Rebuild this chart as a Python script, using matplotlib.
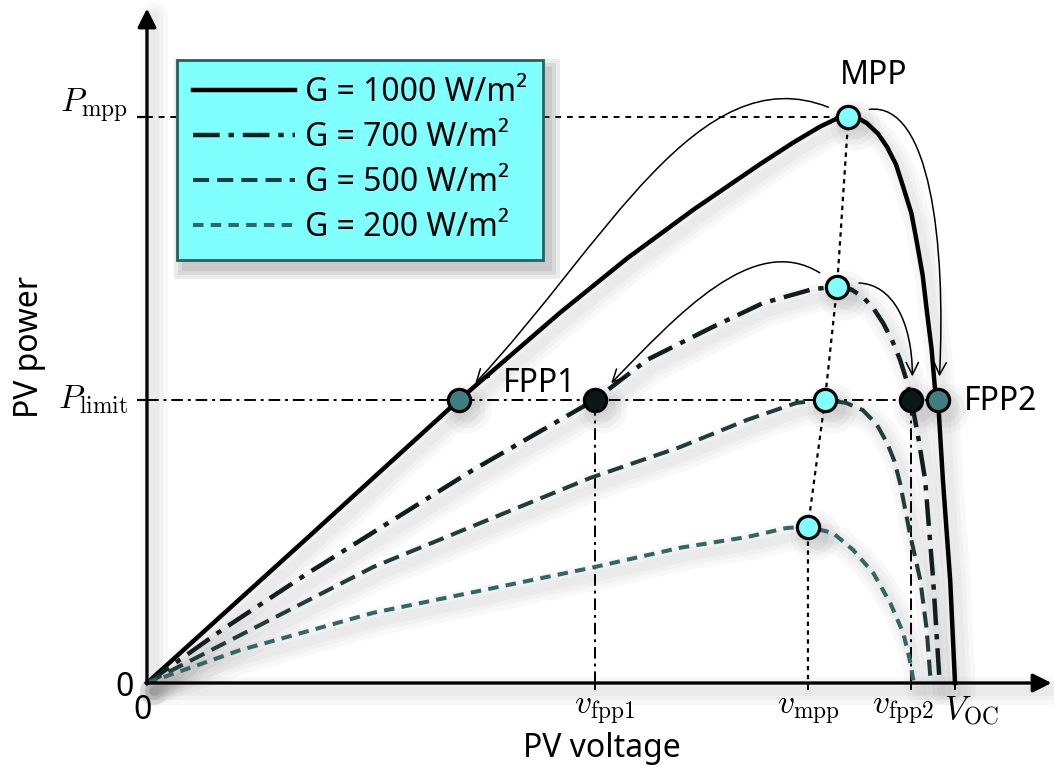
import matplotlib
matplotlib.use('Agg')
import numpy as np
import matplotlib.pyplot as plt
from matplotlib import markers
from matplotlib.transforms import ScaledTranslation
from matplotlib.patches import Rectangle, ConnectionStyle
from matplotlib.path import Path

plt.rcParams['font.family'] = ['Noto Sans', 'DejaVu Sans']
plt.rcParams['mathtext.fontset'] = 'cm'

# PV voltage as v / V_OC and PV power as p / P_mpp
g1000_v = [0, 0.189, 0.386, 0.511, 0.594, 0.676, 0.718, 0.759, 0.800, 0.833, 0.852, 0.868, 0.880, 0.891,
           0.905, 0.916, 0.927, 0.936, 0.946, 0.953, 0.960, 0.965, 0.971, 0.975, 0.979, 0.985, 0.994, 1.0]
g1000_p = [0, 0.244, 0.5, 0.654, 0.750, 0.836, 0.877, 0.917, 0.955, 0.983, 0.996, 1.0, 0.998, 0.989,
           0.970, 0.947, 0.916, 0.876, 0.830, 0.777, 0.720, 0.659, 0.590, 0.523, 0.5, 0.359, 0.182, 0]
g700_v = [0, 0.094, 0.198, 0.403, 0.554, 0.619, 0.700, 0.762, 0.824, 0.854, 0.872, 0.886,
          0.899, 0.911, 0.922, 0.932, 0.940, 0.946, 0.955, 0.963, 0.973, 0.981]
g700_p = [0, 0.095, 0.193, 0.376, 0.5, 0.571, 0.629, 0.671, 0.696, 0.700, 0.695, 0.682,
          0.662, 0.636, 0.606, 0.571, 0.535, 0.5, 0.430, 0.359, 0.182, 0]
g500_v = [0, 0.280, 0.548, 0.660, 0.743, 0.804, 0.839, 0.865, 0.886, 0.903, 0.916, 0.925,
          0.932, 0.944, 0.957, 0.965, 0.970]
g500_p = [0, 0.205, 0.362, 0.417, 0.465, 0.495, 0.5, 0.495, 0.482, 0.457, 0.424, 0.392,
          0.353, 0.265, 0.182, 0.094, 0]
g200_v = [0, 0.115, 0.280, 0.548, 0.660, 0.743, 0.792, 0.818, 0.849, 0.874, 0.899, 0.920,
          0.936, 0.944, 0.949]
g200_p = [0, 0.058, 0.124, 0.203, 0.239, 0.258, 0.274, 0.276, 0.265, 0.235, 0.194, 0.141,
          0.088, 0.041, 0]

labels = ['G = 1000 W/m²', 'G = 700 W/m²', 'G = 500 W/m²', 'G = 200 W/m²']

mpp_v = [0.868, 0.854, 0.839, 0.818]
mpp_p = [1.0, 0.700, 0.5, 0.276]
p_limit = 0.5
fpp1_v = [0.386, 0.554]   # G = 1000, G = 700
fpp2_v = [0.979, 0.946]   # G = 1000, G = 700
v_mpp = 0.818

curves = [(g1000_v, g1000_p), (g700_v, g700_p), (g500_v, g500_p), (g200_v, g200_p)]
styles = [dict(color='black', lw=3.2, ls='-'),
          dict(color='#0f1e1e', lw=3.2, ls=(0, (6, 2, 1.2, 2))),
          dict(color='#1f3d3d', lw=2.9, ls=(0, (4, 2))),
          dict(color='#336666', lw=2.9, ls=(0, (2.6, 1.8)))]


class Cubic(ConnectionStyle._Base):
    """bezier from A to B, leaving A at angleA and arriving at B from angleB"""

    def __init__(self, angleA, angleB, armA, armB):
        self.angleA, self.angleB = np.deg2rad(angleA), np.deg2rad(angleB)
        self.armA, self.armB = armA, armB

    def connect(self, posA, posB):
        (x1, y1), (x2, y2) = posA, posB
        d = np.hypot(x2 - x1, y2 - y1)
        c1 = (x1 + self.armA * d * np.cos(self.angleA), y1 + self.armA * d * np.sin(self.angleA))
        c2 = (x2 + self.armB * d * np.cos(self.angleB), y2 + self.armB * d * np.sin(self.angleB))
        return Path([posA, c1, c2, posB], [Path.MOVETO, Path.CURVE4, Path.CURVE4, Path.CURVE4])


fig = plt.figure(figsize=(10.54, 7.67), dpi=100)
ax = fig.add_axes([0, 0, 1, 1])
ax.set_xlim(-0.1819, 1.1225)
ax.set_ylim(-0.1484, 1.2067)
ax.axis('off')

off = ax.transData + ScaledTranslation(5 / 72, -6 / 72, fig.dpi_scale_trans)


def shadow(x, y):
    for w in (20, 13, 7):
        ax.plot(x, y, color='0.3', lw=w, alpha=0.04, transform=off,
                solid_capstyle='round', solid_joinstyle='round', zorder=1)


# axes with arrows
xmax = ax.get_xlim()[1] - 0.003
ymax = ax.get_ylim()[1] - 0.015
shadow([0, xmax], [0, 0])
shadow([0, 0], [0, ymax])
ax.annotate('', xy=(xmax, 0), xytext=(0, 0),
            arrowprops=dict(arrowstyle='-|>', lw=2.4, color='k', mutation_scale=28, shrinkA=0, shrinkB=0), zorder=6)
ax.annotate('', xy=(0, ymax), xytext=(0, 0),
            arrowprops=dict(arrowstyle='-|>', lw=2.4, color='k', mutation_scale=28, shrinkA=0, shrinkB=0), zorder=6)

# reference lines
ax.plot([0, mpp_v[0]], [mpp_p[0], mpp_p[0]], color='k', lw=1.4, ls=(0, (3, 3)), zorder=2)
ax.plot([0, fpp2_v[0]], [p_limit, p_limit], color='k', lw=1.4, ls=(0, (6, 2.5, 1.5, 2.5)), zorder=2)
for v in fpp1_v[1:] + fpp2_v[1:]:
    ax.plot([v, v], [0, p_limit], color='k', lw=1.4, ls=(0, (6, 2.5, 1.5, 2.5)), zorder=2)
ax.plot(mpp_v + [v_mpp], mpp_p + [0], color='k', lw=1.6, ls=(0, (2, 2)), zorder=2)

# ticks
for p in (mpp_p[0], p_limit):
    ax.plot([0], [p], marker=markers.TICKLEFT, ms=7, mew=1.6, color='k', zorder=6)
for v in (fpp1_v[1], v_mpp, fpp2_v[1], 1.0):
    ax.plot([v], [0], marker=markers.TICKDOWN, ms=5, mew=1.4, color='k', zorder=6)

# curves
handles = []
for (v, p), st, lab in zip(curves, styles, labels):
    shadow(v, p)
    h, = ax.plot(v, p, color=st['color'], lw=st['lw'], ls=st['ls'], label=lab, zorder=3)
    handles.append(h)

# markers
pts_v = mpp_v + fpp1_v + fpp2_v
pts_p = mpp_p + [p_limit] * 4
for s, a in ((36, 0.04), (28, 0.05), (20, 0.06)):
    ax.plot(pts_v, pts_p, marker='o', color='0.25', alpha=a, ms=s, mew=0, ls='none', transform=off, zorder=1)
mk = dict(ms=16, mew=2.3, mec='k', ls='none', zorder=5)
ax.plot(mpp_v, mpp_p, marker='o', mfc='#80ffff', **mk)
ax.plot([fpp1_v[0], fpp2_v[0]], [p_limit] * 2, marker='o', mfc='#3f7f7f', **mk)
ax.plot([fpp1_v[1], fpp2_v[1]], [p_limit] * 2, marker='o', mfc='#0c1818', **mk)

# arrows MPP -> FPP
arr = dict(arrowstyle='->', lw=1.1, color='k', mutation_scale=22, shrinkA=16, shrinkB=17)
left_arcs = [Cubic(150, 45, 0.35, 0.42), Cubic(135, 45, 0.40, 0.40)]
right_arcs = [Cubic(30, 86, 0.32, 0.52), Cubic(20, 85, 0.40, 0.60)]
for i in range(2):
    ax.annotate('', xy=(fpp1_v[i], p_limit), xytext=(mpp_v[i], mpp_p[i]),
                arrowprops=dict(arr, connectionstyle=left_arcs[i]), zorder=4)
    ax.annotate('', xy=(fpp2_v[i], p_limit), xytext=(mpp_v[i], mpp_p[i]),
                arrowprops=dict(arr, connectionstyle=right_arcs[i]), zorder=4)

# annotations
fs = 23
ax.text(0.899, 1.074, 'MPP', fontsize=fs, ha='center', va='center')
ax.text(0.486, 0.53, 'FPP1', fontsize=fs, ha='center', va='center')
ax.text(1.011, 0.497, 'FPP2', fontsize=fs, ha='left', va='center')

# tick labels
mfs = 24
ax.annotate(r'$P_\mathrm{mpp}$', xy=(0, mpp_p[0]), xytext=(-14, 8), textcoords='offset points',
            fontsize=mfs, ha='right', va='center')
ax.annotate(r'$P_\mathrm{limit}$', xy=(0, p_limit), xytext=(-14, 0), textcoords='offset points',
            fontsize=mfs, ha='right', va='center')
for v, lab, dx in ((fpp1_v[1], r'$v_\mathrm{fpp1}$', 7), (v_mpp, r'$v_\mathrm{mpp}$', 0),
                   (fpp2_v[1], r'$v_\mathrm{fpp2}$', -6), (1.0, r'$V_\mathrm{OC}$', 12)):
    ax.annotate(lab, xy=(v, 0), xytext=(dx, -20), textcoords='offset points',
                fontsize=mfs, ha='center', va='center')
ax.annotate('0', xy=(0, 0), xytext=(-16, -3), textcoords='offset points', fontsize=fs, ha='center', va='center')
ax.annotate('0', xy=(0, 0), xytext=(-3, -20), textcoords='offset points', fontsize=fs, ha='center', va='center')

ax.text(0.563, -0.115, 'PV voltage', fontsize=fs, ha='center', va='center')
ax.text(-0.145, 0.594, 'PV power', fontsize=fs, ha='center', va='center', rotation=90)

# legend
leg = ax.legend(handles=handles, loc='upper left', bbox_to_anchor=(177 / 1054, 1 - 60 / 767),
                bbox_transform=fig.transFigure, fontsize=fs, frameon=True, fancybox=False,
                facecolor='#80ffff', edgecolor='#2a5f5f', framealpha=1, handlelength=3.2,
                handletextpad=0.3, labelspacing=0.38, borderpad=0.5, borderaxespad=0)
leg.get_frame().set_linewidth(2)
leg.set_zorder(7)

fig.canvas.draw()
bb = leg.get_window_extent()
for g in (10, 6, 2):
    ax.add_artist(Rectangle((bb.x0 + 7 - g, bb.y0 - 9 - g), bb.width + 2 * g, bb.height + 2 * g,
                            transform=None, color='0.3', alpha=0.11, lw=0, zorder=6))

fig.savefig('out.png', dpi=100)
